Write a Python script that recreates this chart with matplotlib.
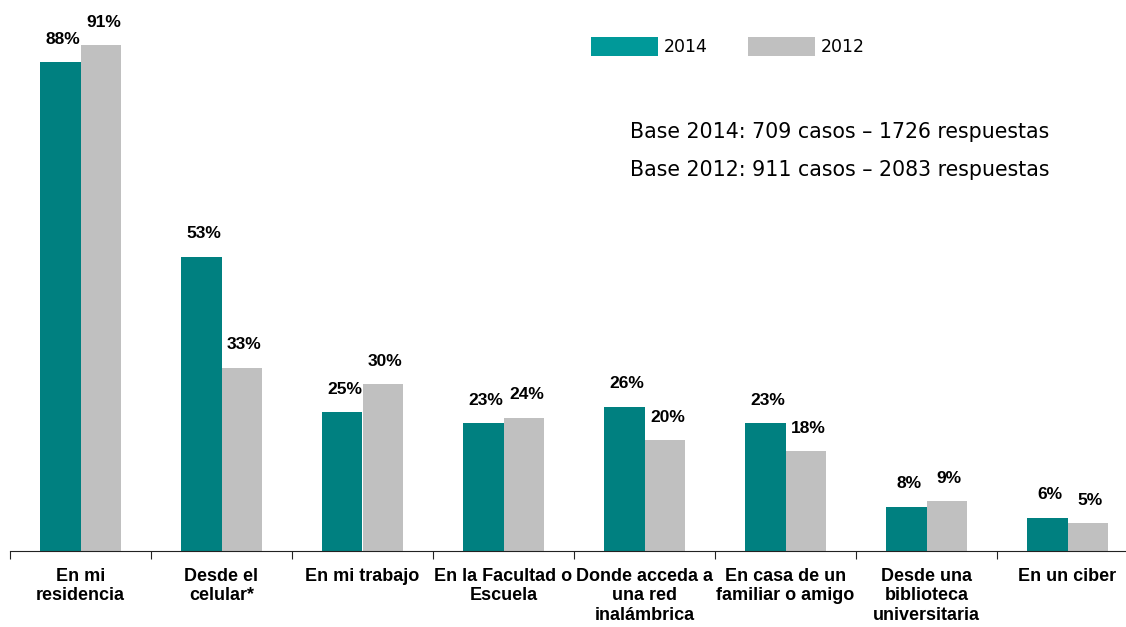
import numpy as np
import matplotlib
matplotlib.use("Agg")
import matplotlib.pyplot as plt
from matplotlib.patches import Patch

# -----------------------------------
# datos
# -----------------------------------
categorias = ["En mi\nresidencia", "Desde el\ncelular*", "En mi trabajo",
              "En la Facultad o\nEscuela", "Donde acceda a\nuna red\ninalámbrica",
              "En casa de un\nfamiliar o amigo", "Desde una\nbiblioteca\nuniversitaria",
              "En un ciber"]
valores_2014 = [88, 53, 25, 23, 26, 23, 8, 6]
valores_2012 = [91, 33, 30, 24, 20, 18, 9, 5]
series = ["2014", "2012"]
nota_base = ["Base 2014: 709 casos – 1726 respuestas",
             "Base 2012: 911 casos – 2083 respuestas"]

color_2014 = "#008080"
color_2014_leyenda = "#009999"
color_2012 = "#C0C0C0"

# -----------------------------------
# figura
# -----------------------------------
fig = plt.figure(figsize=(11.26, 6.27), dpi=100)
# el eje continua un poco mas alla del borde derecho, como en el original
ax = fig.add_axes([10 / 1126, 76 / 627, 1128 / 1126, 550 / 627])

x = np.arange(len(categorias))
ancho = 0.285
b1 = ax.bar(x - ancho / 2, valores_2014, ancho, color=color_2014)
b2 = ax.bar(x + ancho / 2, valores_2012, ancho, color=color_2012)

for barras, vals in [(b1, valores_2014), (b2, valores_2012)]:
    for b, v in zip(barras, vals):
        ax.annotate(f"{v}%", (b.get_x() + b.get_width() / 2, v),
                    xytext=(2, 11), textcoords="offset points",
                    ha="center", va="bottom", fontsize=12.5,
                    fontweight="bold", family="Liberation Sans")

ax.set_xlim(-0.5, len(categorias) - 0.5)
ax.set_ylim(0, 99)
ax.set_yticks([])
for s in ["top", "right", "left"]:
    ax.spines[s].set_visible(False)
ax.spines["bottom"].set_color("#222222")

# ticks en los limites de cada categoria
ax.set_xticks(np.arange(len(categorias) + 1) - 0.5)
ax.set_xticklabels([])
ax.tick_params(axis="x", length=6, color="#222222")
for i, c in enumerate(categorias):
    ax.text(i, -3, c, ha="center", va="top", fontsize=13, fontweight="bold",
            family="Liberation Sans", linespacing=1.2,
            transform=ax.transData)

leyenda = [Patch(facecolor=color_2014_leyenda, label=series[0]),
           Patch(facecolor=color_2012, label=series[1])]
ax.legend(handles=leyenda, loc="upper left", bbox_to_anchor=(591 / 1126, 1 - 37 / 627),
          bbox_transform=fig.transFigure, ncol=2, frameon=False,
          fontsize=12.5, handlelength=3.85, handleheight=1.32, handletextpad=0.35,
          columnspacing=2.3, borderaxespad=0, borderpad=0)

fig.text(630 / 1126, 1 - 132 / 627, nota_base[0], fontsize=14.8, va="center", ha="left")
fig.text(630 / 1126, 1 - 170 / 627, nota_base[1], fontsize=14.8, va="center", ha="left")

plt.savefig("out.png", dpi=100)
